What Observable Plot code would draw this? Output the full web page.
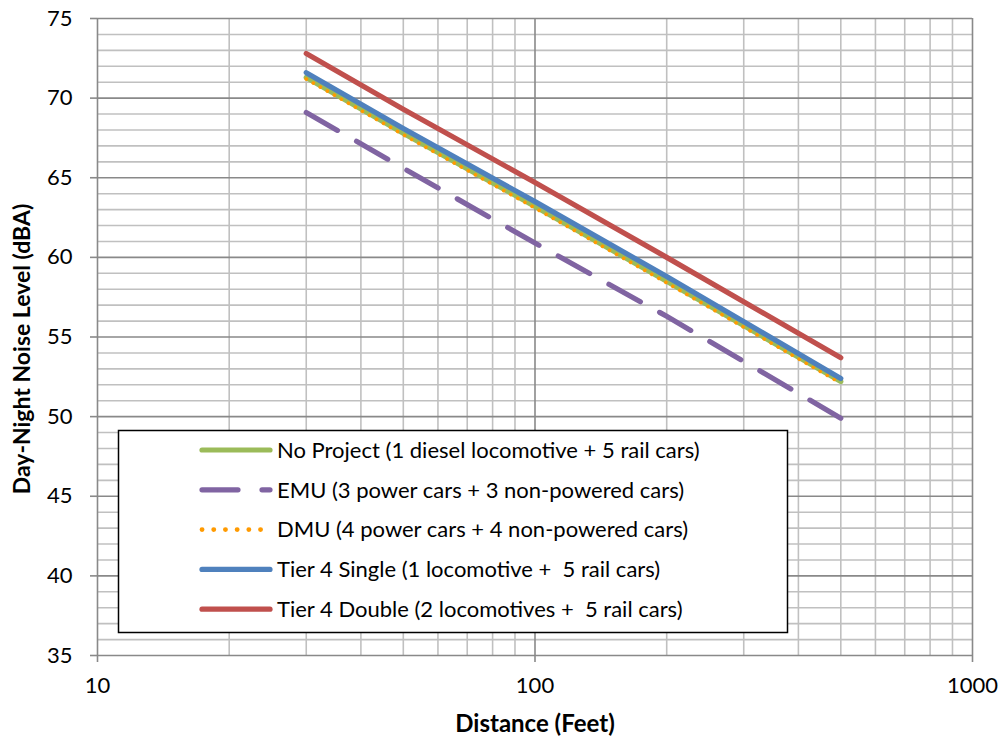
<!DOCTYPE html>
<html>
<head>
<meta charset="utf-8">
<script src="https://cdn.jsdelivr.net/npm/d3@7"></script>
<script src="https://cdn.jsdelivr.net/npm/@observablehq/plot@0.6"></script>
<style>
  html, body { margin: 0; padding: 0; background: #fff; }
  #chart { position: relative; width: 1005px; height: 746px; }
</style>
</head>
<body>
<div id="chart"></div>
<script>
// ---- Data ----
const distances = [30, 50, 100, 200, 500];
const noProject = [71.3, 67.8, 63.2, 58.5, 52.2];
const emu = [69.1, 65.6, 60.9, 56.3, 49.9];
const dmu = [71.2, 67.7, 63.1, 58.4, 52.1];
const tier4Single = [71.6, 68.1, 63.5, 58.8, 52.4];
const tier4Double = [72.8, 69.3, 64.7, 60.0, 53.7];

const seriesNames = [
  "No Project (1 diesel locomotive + 5 rail cars)",
  "EMU (3 power cars + 3 non-powered cars)",
  "DMU (4 power cars + 4 non-powered cars)",
  "Tier 4 Single (1 locomotive +  5 rail cars)",
  "Tier 4 Double (2 locomotives +  5 rail cars)"
];
const seriesValues = [noProject, emu, dmu, tier4Single, tier4Double];
const seriesColors = ["#9BBB59", "#8064A2", "#FF9A00", "#4F81BD", "#C0504D"];
const seriesWidths = [5.2, 5.2, 3.6, 5.2, 5.2];
const legendWidths = [5.2, 5.2, 4.8, 5.2, 5.2];
const seriesDash = [null, "36,22", "0.1,8", null, null];
const legendDash = [null, "36,24", "0.1,11.6", null, null];
const seriesCaps = ["round", "round", "round", "round", "round"];

const xTicks = [10, 100, 1000];
const xMinor = [20, 30, 40, 50, 60, 70, 80, 90, 200, 300, 400, 500, 600, 700, 800, 900];
const yTicks = [35, 40, 45, 50, 55, 60, 65, 70, 75];
const yMinor = d3.range(35, 76, 1).filter(v => v % 5 !== 0);

const xLabel = "Distance (Feet)";
const yLabel = "Day-Night Noise Level (dBA)";

// ---- Build table ----
const rows = [];
seriesNames.forEach((name, i) => {
  distances.forEach((d, j) => rows.push({series: name, idx: i, d, v: seriesValues[i][j]}));
});

const lineMarks = seriesNames.map((name, i) =>
  Plot.line(rows.filter(r => r.idx === i), {
    x: "d", y: "v",
    stroke: seriesColors[i],
    strokeWidth: seriesWidths[i],
    strokeDasharray: seriesDash[i],
    strokeLinecap: seriesCaps[i],
    strokeLinejoin: "round"
  })
);

const fontFamily = "Lato, 'Open Sans', sans-serif";

const plot = Plot.plot({
  width: 1005,
  height: 746,
  marginLeft: 97,
  marginRight: 33,
  marginTop: 18,
  marginBottom: 91,
  style: {fontFamily, fontSize: "22px", color: "#000", background: "#fff", overflow: "visible"},
  x: {type: "log", domain: [10, 1000]},
  y: {domain: [35, 75]},
  marks: [
    Plot.ruleX(xMinor, {stroke: "#c0c0c0", strokeWidth: 1.6}),
    Plot.ruleY(yMinor, {stroke: "#c0c0c0", strokeWidth: 1.6}),
    Plot.ruleX(xTicks, {stroke: "#898989", strokeWidth: 1.6}),
    Plot.ruleY(yTicks, {stroke: "#898989", strokeWidth: 1.6}),
    Plot.axisY({ticks: yTicks, tickSize: 7, tickPadding: 18, label: null, stroke: "#898989", strokeWidth: 1.6, fill: "#000", fontSize: 22}),
    Plot.axisX({ticks: xTicks, tickFormat: d => String(d), tickSize: 7, tickPadding: 15, label: null, stroke: "#898989", strokeWidth: 1.6, fill: "#000", fontSize: 22}),
    ...lineMarks,
    Plot.text([xLabel], {frameAnchor: "bottom", dy: 76, text: d => d, fontWeight: "bold", fontSize: 24, fill: "#000"}),
    Plot.text([yLabel], {frameAnchor: "left", dx: -75, dy: 12, rotate: -90, textAnchor: "middle", text: d => d, fontWeight: "bold", fontSize: 23, fill: "#000"})
  ]
});

// ---- Legend (inside the plot area, lower left) ----
const svg = d3.select(plot);
const lg = svg.append("g").attr("font-family", fontFamily).attr("font-size", 22).attr("text-anchor", "start");
lg.append("rect")
  .attr("x", 118.5).attr("y", 430.5).attr("width", 669).attr("height", 202)
  .attr("fill", "#fff").attr("stroke", "#000").attr("stroke-width", 1.5);
seriesNames.forEach((name, i) => {
  const cy = 450 + i * 39.8;
  lg.append("line")
    .attr("x1", 202).attr("x2", 270).attr("y1", cy).attr("y2", cy)
    .attr("stroke", seriesColors[i])
    .attr("stroke-width", legendWidths[i])
    .attr("stroke-linecap", seriesCaps[i])
    .attr("stroke-dasharray", legendDash[i]);
  lg.append("text")
    .attr("x", 277).attr("y", cy).attr("dy", "0.35em")
    .attr("fill", "#000")
    .text(name);
});

document.getElementById("chart").appendChild(plot);
</script>
</body>
</html>
